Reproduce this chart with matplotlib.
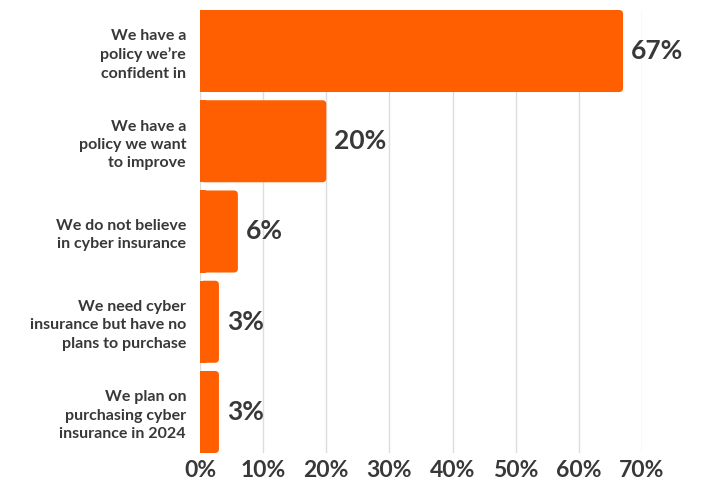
import matplotlib.pyplot as plt
from matplotlib.patches import FancyBboxPatch, Rectangle

categories = [
    "We have a\npolicy we\u2019re\nconfident in",
    "We have a\npolicy we want\nto improve",
    "We do not believe\nin cyber insurance",
    "We need cyber\ninsurance but have no\nplans to purchase",
    "We plan on\npurchasing cyber\ninsurance in 2024",
]
values = [67, 20, 6, 3, 3]
ticks = [0, 10, 20, 30, 40, 50, 60, 70]

orange = "#FF5F00"
text_col = "#383838"
plt.rcParams['font.family'] = ['Lato', 'DejaVu Sans']

h = 0.909
fig = plt.figure(figsize=(7.05, 4.84), dpi=100)
ax = fig.add_axes([200 / 705, 1 - 453 / 484, 442 / 705, 443 / 484])
ax.set_xlim(0, 70)
ax.set_ylim(len(values) - 1 + h / 2, -h / 2)

# pixel scale, used to keep the corner radius round
px_x = 70 / 442
px_y = (len(values) - 1 + h) / 443
radius = 4

for i, v in enumerate(values):
    y0 = i - h / 2
    box = FancyBboxPatch((0, y0), v, h,
                         boxstyle="round,pad=0,rounding_size=%f" % (radius * px_x),
                         mutation_aspect=px_y / px_x,
                         facecolor=orange, edgecolor="none", zorder=3)
    ax.add_patch(box)
    # square off the left end against the axis
    ax.add_patch(Rectangle((0, y0), min(v / 2, 1.0), h, facecolor=orange,
                           edgecolor="none", zorder=3))
    ax.text(v + 8 * px_x, i, f"{v}%", va="center", ha="left",
            fontsize=19, fontweight="bold", color=text_col)

ax.set_xticks(ticks)
ax.set_xticklabels([f"{t}%" for t in ticks], fontsize=16.5, fontweight="bold",
                   color=text_col)
ax.set_yticks(range(len(values)))
ax.set_yticklabels(categories, fontsize=11.5, fontweight="bold", color=text_col,
                   linespacing=1.4)
ax.tick_params(axis="both", length=0)
ax.tick_params(axis="y", pad=10)
ax.tick_params(axis="x", pad=5)
ax.grid(axis="x", color="#dddddd", linewidth=1, zorder=0)
for s in ax.spines.values():
    s.set_visible(False)

fig.savefig("out.png", dpi=100)
